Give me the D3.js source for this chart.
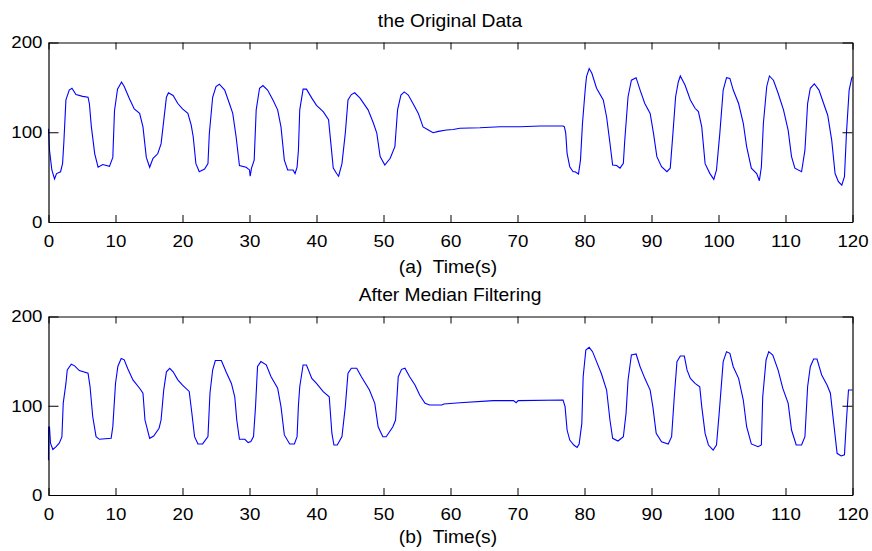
<!DOCTYPE html>
<html><head><meta charset="utf-8">
<script src="https://cdn.jsdelivr.net/npm/d3@7"></script>
<style>
html,body{margin:0;padding:0;background:#fff;}
svg text{font-family:"Liberation Sans",Arial,sans-serif;fill:#000;}
</style></head>
<body><svg id="c" width="872" height="551"></svg>
<script>
// ---- data ----
const titles = ["the Original Data", "After Median Filtering"];
const xLabels = ["(a)  Time(s)", "(b)  Time(s)"];
const xTicks = [0,10,20,30,40,50,60,70,80,90,100,110,120];
const yTicks = [0,100,200];

const origT = [0,0.15,0.5,0.9,1.2,1.8,2.1,2.3,2.6,3.1,
 3.5,4.1,5.1,5.9,6.1,6.4,6.9,7.4,8.1,9.1,
 9.6,9.85,10.3,10.9,11.3,12.1,12.8,13.6,14.1,14.6,
 15.1,15.6,16.3,16.8,17.2,17.6,17.9,18.6,19.3,20.0,
 20.8,21.3,21.6,22.0,22.5,23.3,23.8,24.0,24.5,25.0,
 25.5,26.3,27.0,27.5,28.0,28.5,29.5,30.0,30.1,30.3,
 30.7,31.0,31.5,32.0,32.7,33.5,34.2,34.7,35.2,35.7,
 36.5,36.8,37.1,37.3,37.5,38.0,38.5,39.3,40.0,41.0,
 41.8,42.1,42.5,43.0,43.3,43.8,44.3,44.7,45.2,45.7,
 46.5,47.7,48.5,49.0,49.5,50.2,51.0,51.7,52.1,52.6,
 53.1,53.7,54.4,55.2,55.9,56.7,57.4,58.2,59.4,60.4,
 61.4,64.4,67.4,70.4,73.4,76.8,77.0,77.2,77.4,77.8,
 78.3,78.6,79.1,79.4,79.7,80.1,80.3,80.7,81.1,81.8,
 82.8,83.3,83.8,84.2,84.8,85.3,85.8,86.0,86.5,87.0,
 87.7,88.3,89.0,89.8,90.3,90.8,91.5,92.3,92.8,93.2,
 93.6,94.0,94.3,95.0,95.8,96.5,97.0,97.5,98.0,98.7,
 99.3,99.7,100.2,100.7,101.2,101.7,102.2,103.0,103.7,104.2,
 104.9,105.7,106.1,106.4,106.7,107.2,107.6,108.2,108.9,109.7,
 110.4,110.9,111.4,112.4,112.9,113.3,113.7,114.3,115.0,115.6,
 116.3,116.9,117.4,117.9,118.4,118.8,119.1,119.5,119.9,120];
const origV = [104,80,58,48,54,56,65,90,136,147,
 149,142,140,139,132,106,76,61,64,62,
 72,124,148,156,151,137,126,121,106,72,
 61,71,76,87,113,139,144,141,132,126,
 121,108,95,65,56,59,65,98,139,151,
 153.5,147,132,121,95,63,61,58,51,60,
 69,125,149,152,147,136,125,106,69,58,
 58,54,61,80,125,148,148,138,130,123,
 114,91,60,54,51,65,99,136,142,144,
 138,125,110,99,73,63.5,71,84,125,141.5,
 145,141.5,132,121,106,102.5,99.5,101,102.5,103,
 104.4,105,106.2,106.2,107,107,106,99,76.5,61.6,
 56,56,53.5,69,110,147,162,171,165.7,149,
 136,117,87.7,63.5,63,60,65.4,90,139.6,158,
 160.8,147,132,121,98.8,72.8,61.6,56,60,99,
 139.6,156,162.7,152.6,136,126.7,123,106,65,54.2,
 47.5,58,99,147,160.8,160,147,132,110,84,
 60,54,46,61.6,110,151,162.7,158,143.5,125,
 102,72.8,60,56,80,132,149,154,147,134,
 119,91,54,45,41,50.5,99,147,160.8,162];

const filtT = [0,0.02,0.15,0.3,0.65,1.1,1.6,2.0,2.2,2.6,
 2.8,3.4,3.9,4.6,5.9,6.2,6.6,7.1,7.6,9.35,
 9.6,10.0,10.35,10.85,11.3,11.8,12.6,13.6,14.1,14.4,
 15.1,15.7,16.5,16.8,17.2,17.6,18.1,18.6,19.3,20.0,
 21.0,21.4,21.8,22.3,23.0,23.8,24.1,24.5,24.9,25.8,
 26.5,27.3,27.8,28.1,28.5,29.3,29.8,30.2,30.6,30.9,
 31.2,31.7,32.5,33.2,34.2,34.7,35.2,36.0,36.7,37.1,
 37.3,37.5,38.0,38.5,39.3,40.0,41.0,41.9,42.3,42.6,
 43.1,43.8,44.3,44.7,45.2,46.0,46.7,47.9,48.7,49.2,
 49.9,50.4,51.4,51.8,52.2,52.7,53.2,53.9,54.7,55.4,
 56.2,56.9,58.7,59.0,61.4,66.4,69.4,69.8,70.1,76.8,
 77.1,77.4,77.8,78.4,78.9,79.2,79.6,79.8,80.2,80.7,
 81.2,81.8,82.5,83.3,83.8,84.2,85.0,85.8,86.2,86.5,
 87.0,87.7,88.3,89.0,89.8,90.2,90.7,91.5,92.5,93.0,
 93.4,93.8,94.3,94.9,95.3,95.8,96.5,97.2,97.5,98.0,
 98.5,99.2,99.7,100.1,100.7,101.2,101.7,102.2,103.0,103.7,
 104.2,104.9,105.9,106.4,106.6,107.1,107.5,108.1,108.9,109.6,
 110.4,110.9,111.6,112.4,112.9,113.3,113.7,114.2,114.7,115.4,
 116.2,116.7,117.2,117.7,118.3,118.8,119.1,119.4,119.6,120];
const filtV = [39,76,76,58,51,54,58,65,103,125,
 140,146.5,144.7,139.4,136.4,121.5,87.9,65.4,62.4,63.5,
 76.6,125,144,153,151.4,142,129,119.6,114,84,
 63.5,66,74.8,84,117.8,138,142,138,129,123,
 116,91.6,65.4,57.2,57.2,65.4,114,140,150.7,150.7,
 138,125,110,84,62.4,62.4,58.7,59.8,65.4,99,
 144,149.5,145.8,132.7,119.6,99,67.3,57.2,57.2,65.4,
 100,121.3,145.7,145.7,130.7,125,115.8,110,69,56,
 56,65.4,99,136.4,142,142,132.5,117.6,102.7,76.5,
 65.3,65.3,76.5,84,132.5,140.8,142,132.5,123.3,112,
 102.7,100.8,100.8,102,103.4,105.7,105.7,103.4,105.7,106.4,
 99,72.8,61.6,56,53.4,57.2,80.3,132.5,162.5,165.5,
 160.6,149.4,136.4,117.6,84,63.5,60.5,65.3,91.5,128.8,
 156.9,158,143.7,130.7,117.6,99,69,59.7,57.2,65.3,
 110,149.4,155.7,155.7,140.1,130.7,125.1,121.3,99,69,
 56,50.4,56,91.5,149.4,160.6,158.7,143.7,130.7,106.4,
 76.5,57.2,54.1,56,110,151.3,160.6,156.9,140,119.5,
 102.7,72.8,56,56,65.3,121.3,143.7,152.4,152.4,134.5,
 123.3,114,80.3,46.7,43.7,45,84,117.6,117.6,117.6];

// ---- drawing ----
const svg = d3.select("#c");
const SX = 1.1;          // horizontal stretch of the reference text
const L = 48.5, R = 852.5;
const panels = [
  {top:42.5, bottom:222, T:origT, V:origV, title:titles[0], xl:xLabels[0], titleY:26.5, xlY:272.5},
  {top:316.5, bottom:495, T:filtT, V:filtV, title:titles[1], xl:xLabels[1], titleY:301, xlY:543}
];
const x = d3.scaleLinear().domain([0,120]).range([L,R]);

function stretchText(g, px, py, s, size, anchor){
  g.append("text")
    .attr("transform", `translate(${px},${py}) scale(${SX},1)`)
    .attr("text-anchor", anchor)
    .style("font-size", size+"px")
    .style("white-space","pre")
    .attr("xml:space","preserve")
    .text(s);
}

panels.forEach(p => {
  const y = d3.scaleLinear().domain([0,200]).range([p.bottom, p.top]);
  const g = svg.append("g");

  // data line
  const line = d3.line().x((d,i)=>x(p.T[i])).y((d,i)=>y(p.V[i]));
  g.append("path").datum(p.V).attr("d", line)
    .attr("fill","none").attr("stroke","#0000ff").attr("stroke-width",1.1);

  // axes
  const ab = g.append("g").attr("transform",`translate(0,${p.bottom})`)
    .call(d3.axisBottom(x).tickValues(xTicks).tickSize(-7).tickSizeOuter(0).tickPadding(12.5));
  const at = g.append("g").attr("transform",`translate(0,${p.top})`)
    .call(d3.axisTop(x).tickValues(xTicks).tickSize(-7).tickSizeOuter(0).tickFormat(""));
  const al = g.append("g").attr("transform",`translate(${L},0)`)
    .call(d3.axisLeft(y).tickValues(yTicks).tickSize(-10).tickSizeOuter(0).tickPadding(6));
  const ar = g.append("g").attr("transform",`translate(${R},0)`)
    .call(d3.axisRight(y).tickValues(yTicks).tickSize(-10).tickSizeOuter(0).tickFormat(""));

  [ab,at,al,ar].forEach(a=>{
    a.selectAll("path.domain").attr("stroke","#000").attr("stroke-width",1.2);
    a.selectAll("line").attr("stroke","#000").attr("stroke-width",1);
    a.selectAll("text").style("font-size","17px").style("font-family",'"Liberation Sans",Arial,sans-serif').attr("fill","#000");
  });
  ab.selectAll("text").attr("transform",`scale(${SX},1)`);
  al.selectAll("text").attr("x",-6/SX).attr("transform",`scale(${SX},1)`);

  stretchText(g, 450, p.titleY, p.title, 17.5, "middle");
  stretchText(g, 448, p.xlY, p.xl, 17.5, "middle");
});
</script></body></html>
